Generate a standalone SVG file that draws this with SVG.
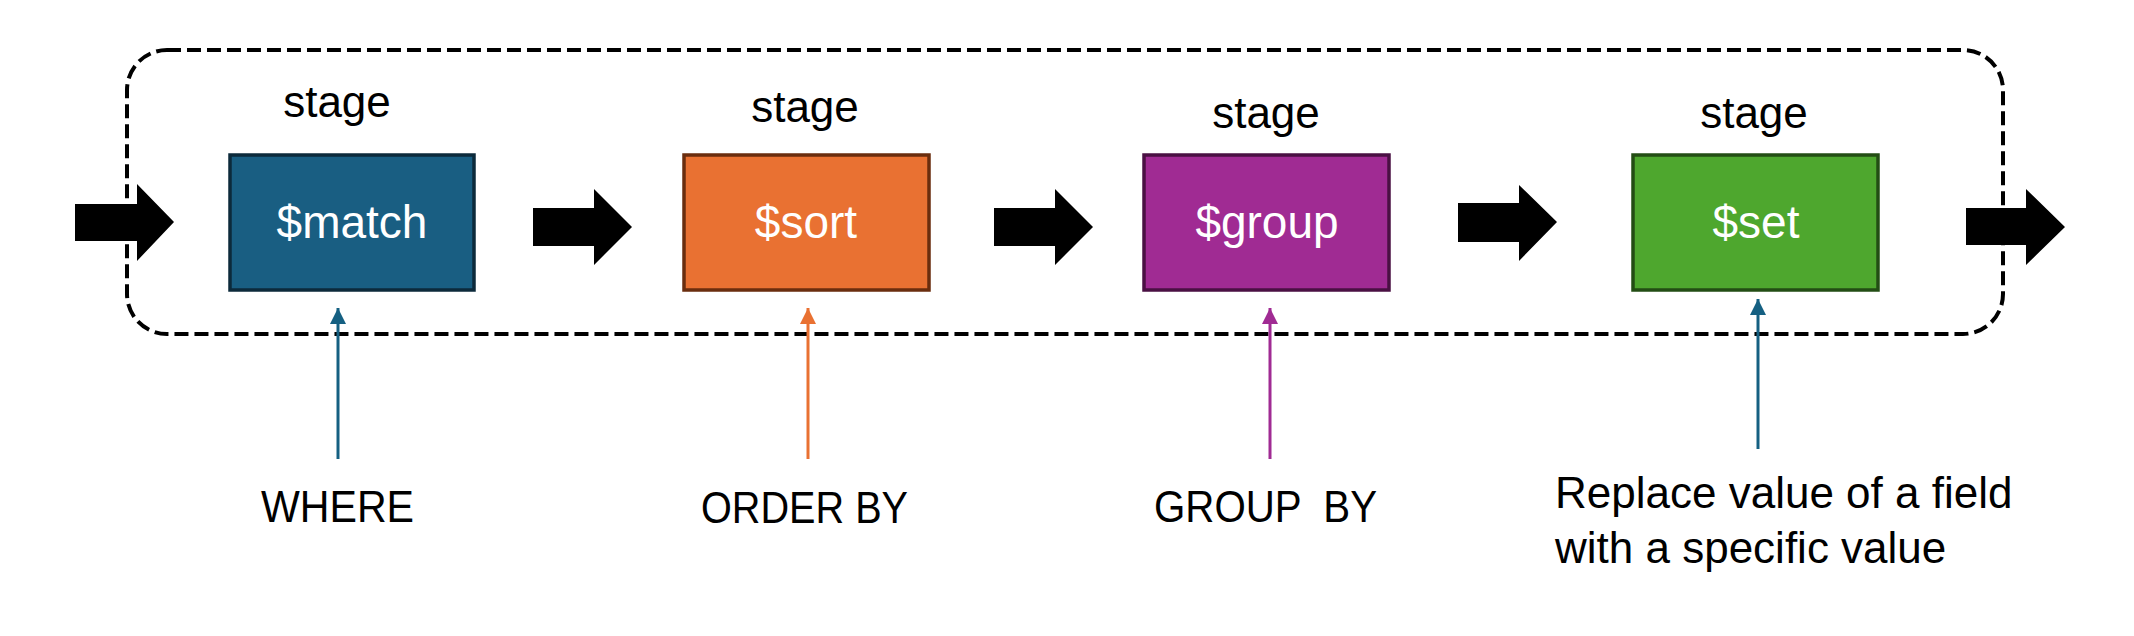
<svg xmlns="http://www.w3.org/2000/svg" width="2134" height="636" viewBox="0 0 2134 636">
<defs>
<style>
text{font-family:"Liberation Sans",Arial,sans-serif;font-size:44px;}
.lbl{fill:#000;}
.stage{fill:#000;text-anchor:middle;}
.boxt{fill:#fff;text-anchor:middle;font-size:46px;}
.big{fill:#000;}
.box{stroke-width:3.5;}
.conn{stroke-width:3;fill:none;}
</style>
<marker id="hBlue" viewBox="0 0 10 10" refX="10" refY="5" markerWidth="16" markerHeight="16" markerUnits="userSpaceOnUse" orient="auto"><path d="M0,0 L10,5 L0,10 z" fill="#156082"/></marker>
<marker id="hOrange" viewBox="0 0 10 10" refX="10" refY="5" markerWidth="16" markerHeight="16" markerUnits="userSpaceOnUse" orient="auto"><path d="M0,0 L10,5 L0,10 z" fill="#E97132"/></marker>
<marker id="hPurple" viewBox="0 0 10 10" refX="10" refY="5" markerWidth="16" markerHeight="16" markerUnits="userSpaceOnUse" orient="auto"><path d="M0,0 L10,5 L0,10 z" fill="#A02B93"/></marker>
</defs>
<rect width="2134" height="636" fill="#fff"/>
<rect id="pipeline" x="127" y="50" width="1876" height="284" rx="40" ry="40" fill="none" stroke="#000" stroke-width="4" stroke-dasharray="14 6"/>

<g id="connectors">
<polygon class="big" points="75,204 137,204 137,184 174,222 137,261 137,241 75,241"/>
<polygon class="big" points="533,208 594,208 594,189 632,227 594,265 594,246 533,246"/>
<polygon class="big" points="994,208 1055,208 1055,189 1093,227 1055,265 1055,246 994,246"/>
<polygon class="big" points="1458,203 1519,203 1519,185 1557,222 1519,261 1519,242 1458,242"/>
<polygon class="big" points="1966,208 2026,208 2026,189 2065,227 2026,265 2026,245 1966,245"/>
<line class="conn" x1="338" y1="459" x2="338" y2="308" stroke="#156082" marker-end="url(#hBlue)"/>
<line class="conn" x1="808" y1="459" x2="808" y2="308" stroke="#E97132" marker-end="url(#hOrange)"/>
<line class="conn" x1="1270" y1="459" x2="1270" y2="308" stroke="#A02B93" marker-end="url(#hPurple)"/>
<line class="conn" x1="1758" y1="449" x2="1758" y2="299" stroke="#156082" marker-end="url(#hBlue)"/>
</g>

<g id="match">
<text class="stage" x="337" y="117">stage</text>
<rect class="box" x="230" y="155" width="244" height="135" fill="#195E82" stroke="#0C2A3B"/>
<text class="boxt" x="352" y="238">$match</text>
</g>
<g id="sort">
<text class="stage" x="805" y="122">stage</text>
<rect class="box" x="684" y="155" width="245" height="135" fill="#E97132" stroke="#6A2D0E"/>
<text class="boxt" x="806" y="238">$sort</text>
</g>
<g id="group">
<text class="stage" x="1266" y="128">stage</text>
<rect class="box" x="1144" y="155" width="245" height="135" fill="#A02B93" stroke="#4A1043"/>
<text class="boxt" x="1267" y="238">$group</text>
</g>
<g id="set">
<text class="stage" x="1754" y="128">stage</text>
<rect class="box" x="1633" y="155" width="245" height="135" fill="#4EA72E" stroke="#234D14"/>
<text class="boxt" x="1756" y="238">$set</text>
</g>

<g id="where">
<text class="lbl" x="261" y="522" textLength="153" lengthAdjust="spacingAndGlyphs">WHERE</text>
</g>
<g id="orderby">
<text class="lbl" x="701" y="523" textLength="207" lengthAdjust="spacingAndGlyphs">ORDER BY</text>
</g>
<g id="groupby">
<text class="lbl" x="1154" y="522" textLength="223" lengthAdjust="spacingAndGlyphs" xml:space="preserve">GROUP  BY</text>
</g>
<g id="replace">
<text class="lbl" x="1555" y="508">Replace value of a field</text>
<text class="lbl" x="1555" y="563">with a specific value</text>
</g>
</svg>
